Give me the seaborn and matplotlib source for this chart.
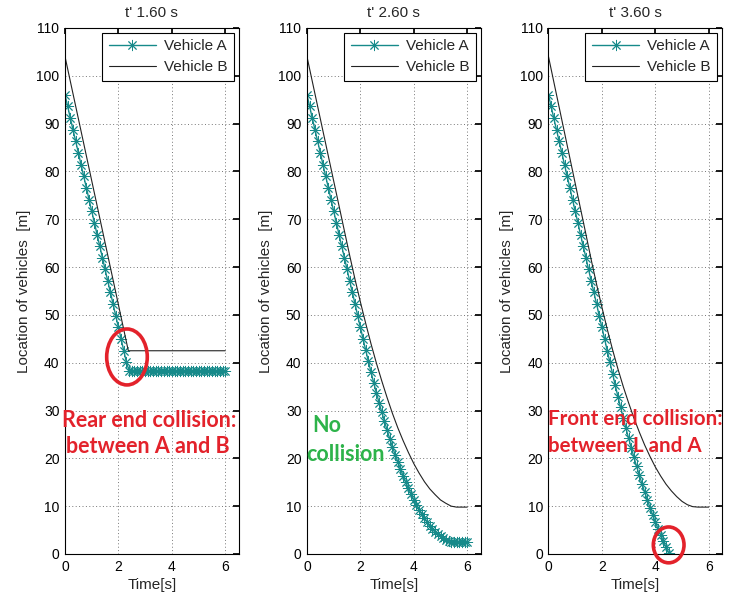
import numpy as np
import pandas as pd
import matplotlib
matplotlib.use("Agg")
import matplotlib.pyplot as plt
from matplotlib.patches import Ellipse
import seaborn as sns

# ---------------- data ----------------
titles = ["t' 1.60 s", "t' 2.60 s", "t' 3.60 s"]
series_names = ["Vehicle A", "Vehicle B"]

time_A_full = np.linspace(0, 6, 61)
time_A_short = np.linspace(0, 4.5, 46)
time_B = np.linspace(0, 6, 31)
time_B1 = [0.0, 2.37, 6.0]

veh_A1 = [96.0, 93.6, 91.1, 88.7, 86.3, 83.9, 81.4, 79.0, 76.6, 74.1, 71.7, 69.3,
          66.8, 64.4, 62.0, 59.5, 57.1, 54.7, 52.3, 49.8, 47.4, 45.0, 42.5, 40.1,
          38.3, 38.3, 38.3, 38.3, 38.3, 38.3, 38.3, 38.3, 38.3, 38.3, 38.3, 38.3,
          38.3, 38.3, 38.3, 38.3, 38.3, 38.3, 38.3, 38.3, 38.3, 38.3, 38.3, 38.3,
          38.3, 38.3, 38.3, 38.3, 38.3, 38.3, 38.3, 38.3, 38.3, 38.3, 38.3, 38.3,
          38.3]
veh_B1 = [104.0, 42.5, 42.5]

veh_A2 = [96.0, 93.6, 91.1, 88.7, 86.3, 83.9, 81.4, 79.0, 76.6, 74.1, 71.7, 69.3,
          66.8, 64.4, 62.0, 59.5, 57.1, 54.7, 52.3, 49.8, 47.4, 45.0,
          42.6, 40.3, 38.0, 35.8, 33.7, 31.6, 29.7, 27.8, 25.9, 24.1, 22.4, 20.8,
          19.3, 17.8, 16.3, 15.0, 13.7, 12.5, 11.3, 10.3, 9.3, 8.3, 7.5, 6.7,
          5.9, 5.3, 4.7, 4.2, 3.7, 3.3, 3.0, 2.8, 2.6, 2.5, 2.5,
          2.5, 2.5, 2.5, 2.6]
veh_B2 = [104.0, 98.8, 93.6, 88.4, 83.2, 78.0, 72.8, 67.6, 62.4, 57.4, 52.7,
          48.2, 43.9, 39.9, 36.2, 32.7, 29.4, 26.4, 23.7, 21.2, 18.9, 16.9,
          15.1, 13.6, 12.4, 11.3, 10.6, 10.0, 9.8, 9.8, 9.8]

veh_A3 = [96.0, 93.6, 91.1, 88.7, 86.3, 83.9, 81.4, 79.0, 76.6, 74.1, 71.7, 69.3,
          66.8, 64.4, 62.0, 59.5, 57.1, 54.7, 52.3, 49.8, 47.4, 45.0,
          42.5, 40.1, 37.7, 35.3, 32.9, 30.7, 28.5, 26.3, 24.2, 22.2, 20.2,
          18.3, 16.5, 14.7, 13.0, 11.3, 9.7, 8.2, 6.7, 5.3, 4.0, 2.7, 1.4, 0.3]
veh_B3 = [104.0, 98.7, 93.4, 88.1, 82.8, 77.5, 72.2, 66.9, 61.5, 56.4, 51.6,
          47.0, 42.7, 38.7, 35.0, 31.6, 28.4, 25.5, 22.8, 20.4, 18.2, 16.3,
          14.6, 13.2, 12.0, 11.0, 10.3, 9.9, 9.8, 9.8, 9.8]

panels = [
    (time_A_full, veh_A1, time_B1, veh_B1),
    (time_A_full, veh_A2, time_B, veh_B2),
    (time_A_short, veh_A3, time_B, veh_B3),
]

x_ticks = [0, 2, 4, 6]
y_ticks = list(range(0, 111, 10))

# ---------------- style ----------------
sns.set_theme(style="white")
plt.rcParams['font.family'] = ['Liberation Sans', 'DejaVu Sans']

teal = "#168a8a"
red = "#e3222b"
green = "#2db34a"

fig = plt.figure(figsize=(7.29, 6.03), dpi=100)
lefts = [0.0892, 0.4211, 0.7524]
bottom, width, height = 0.0813, 0.2381, 0.8723

axes = []
for i, (tA, vA, tB, vB) in enumerate(panels):
    ax = fig.add_axes([lefts[i], bottom, width, height])
    axes.append(ax)
    dfA = pd.DataFrame({"t": tA, "y": vA})
    dfB = pd.DataFrame({"t": tB, "y": vB})
    sns.lineplot(data=dfA, x="t", y="y", ax=ax, color=teal, linewidth=1.0,
                 marker=(8, 2, 0), markersize=8, markeredgecolor=teal,
                 markeredgewidth=0.65, label=series_names[0])
    sns.lineplot(data=dfB, x="t", y="y", ax=ax, color="#222222", linewidth=0.8,
                 label=series_names[1])
    ax.set_xlim(0, 6.5)
    ax.set_ylim(0, 110)
    ax.set_xticks(x_ticks)
    ax.set_yticks(y_ticks)
    ax.grid(True, linestyle=(0, (1, 2.5)), color="#777777", linewidth=0.7)
    ax.tick_params(direction="in", top=True, right=True, length=4,
                   labelsize=10, colors="black", pad=4)
    for sp in ax.spines.values():
        sp.set_color("black")
        sp.set_linewidth(0.8)
    ax.set_title(titles[i], fontsize=11, pad=8)
    ax.set_xlabel("Time[s]", fontsize=11, labelpad=3)
    ax.set_ylabel("Location of vehicles  [m]", fontsize=11, labelpad=4)
    leg = ax.legend(loc="upper right", fontsize=11, frameon=True,
                    fancybox=False, framealpha=1, edgecolor="black",
                    handlelength=3.1, borderaxespad=0.3, borderpad=0.45,
                    labelspacing=0.45, handletextpad=0.5)
    leg.get_frame().set_linewidth(0.8)

# ---------------- annotations ----------------
ann_font = dict(family=['Lato', 'DejaVu Sans'], fontweight='bold', fontsize=15.5)

ax = axes[0]
ax.add_patch(Ellipse((2.32, 41.2), 1.52, 11.7, fill=False, edgecolor=red,
                     linewidth=2.6, clip_on=False, zorder=5))
ax.text(-0.1, 28.0, "Rear end collision:", color=red, ha="left", va="center",
        clip_on=False, zorder=6, **ann_font)
ax.text(0.05, 22.5, "between A and B", color=red, ha="left", va="center",
        clip_on=False, zorder=6, **ann_font)

ax = axes[1]
ax.text(0.21, 26.8, "No", color=green, ha="left", va="center",
        clip_on=False, zorder=6, **ann_font)
ax.text(-0.01, 20.9, "collision", color=green, ha="left", va="center",
        clip_on=False, zorder=6, **ann_font)

ax = axes[2]
ax.add_patch(Ellipse((4.5, 1.9), 1.15, 7.5, fill=False, edgecolor=red,
                     linewidth=2.6, clip_on=False, zorder=5))
front_font = dict(ann_font, fontsize=14.8)
ax.text(0.0, 28.2, "Front end collision:", color=red, ha="left", va="center",
        clip_on=False, zorder=6, **front_font)
ax.text(0.0, 22.6, "between L and A", color=red, ha="left", va="center",
        clip_on=False, zorder=6, **front_font)

fig.savefig("out.png", dpi=100, facecolor="white")
